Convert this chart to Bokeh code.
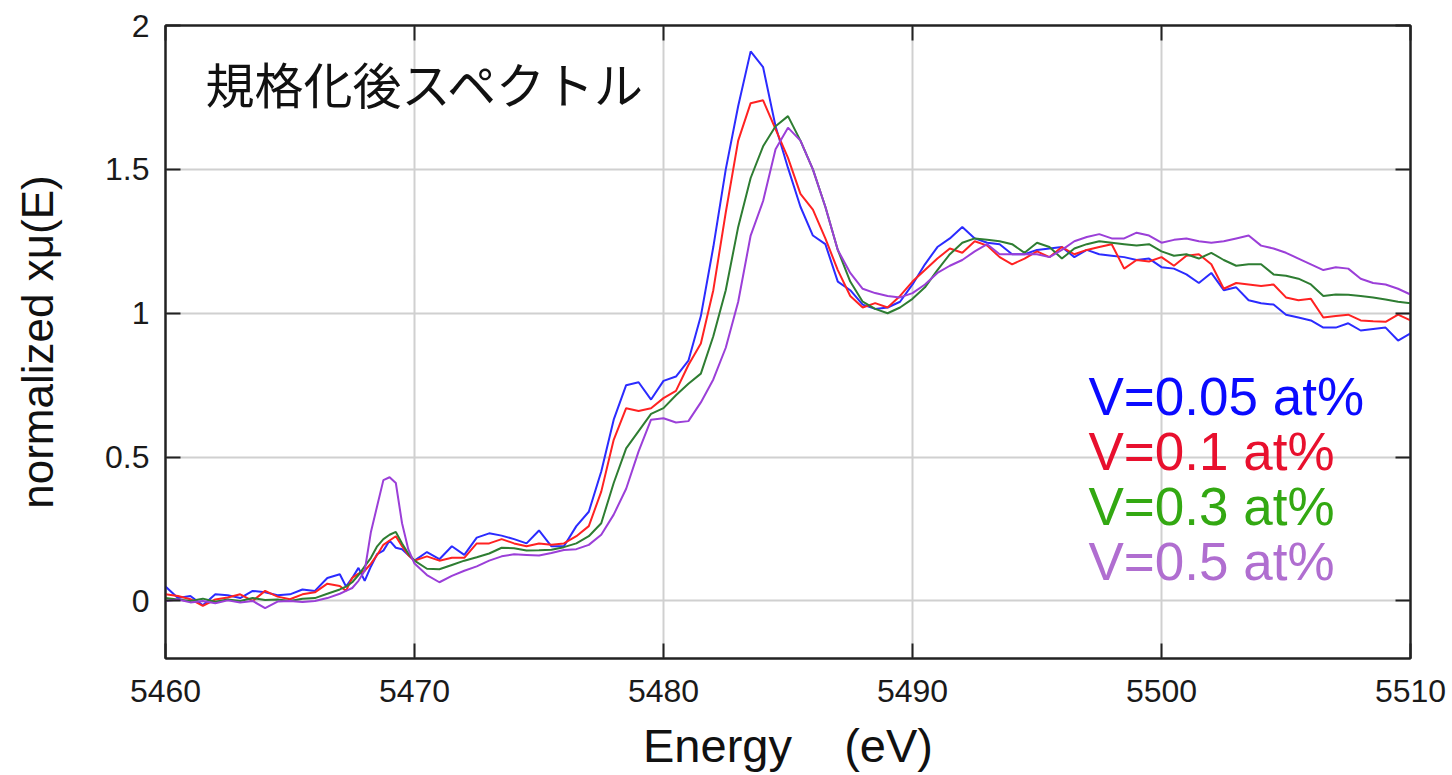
from bokeh.plotting import figure
from bokeh.models import Range1d, LinearAxis, Label, FixedTicker, NumeralTickFormatter
from bokeh.embed import file_html
from bokeh.resources import INLINE

# ---------------- data ----------------
energy = [5460.0, 5460.5, 5461.0, 5461.5, 5462.0, 5462.5, 5463.0, 5463.5, 5464.0, 5464.5,
          5465.0, 5465.5, 5466.0, 5466.5, 5467.0,
          5467.25, 5467.5, 5467.75, 5468.0, 5468.25, 5468.5, 5468.75, 5469.0, 5469.25, 5469.5,
          5469.75, 5470.0,
          5470.5, 5471.0, 5471.5, 5472.0, 5472.5, 5473.0, 5473.5, 5474.0, 5474.5, 5475.0,
          5475.5, 5476.0, 5476.5, 5477.0, 5477.5, 5478.0, 5478.5, 5479.0, 5479.5, 5480.0,
          5480.5, 5481.0, 5481.5, 5482.0, 5482.5, 5483.0, 5483.5, 5484.0, 5484.5, 5485.0,
          5485.5, 5486.0, 5486.5, 5487.0, 5487.5, 5488.0, 5488.5, 5489.0, 5489.5, 5490.0,
          5490.5, 5491.0, 5491.5, 5492.0, 5492.5, 5493.0, 5493.5, 5494.0, 5494.5, 5495.0,
          5495.5, 5496.0, 5496.5, 5497.0, 5497.5, 5498.0, 5498.5, 5499.0, 5499.5, 5500.0,
          5500.5, 5501.0, 5501.5, 5502.0, 5502.5, 5503.0, 5503.5, 5504.0, 5504.5, 5505.0,
          5505.5, 5506.0, 5506.5, 5507.0, 5507.5, 5508.0, 5508.5, 5509.0, 5509.5, 5510.0]

v005 = [0.05, 0.01, 0.017, -0.015, 0.023, 0.02, 0.01, 0.035, 0.03, 0.02,
        0.023, 0.04, 0.035, 0.08, 0.093,
        0.05, 0.08, 0.115, 0.07, 0.12, 0.163, 0.175, 0.21, 0.185, 0.18,
        0.16, 0.14,
        0.17, 0.145, 0.19, 0.16, 0.22, 0.235, 0.227, 0.215, 0.2, 0.245,
        0.19, 0.19, 0.26, 0.31, 0.45, 0.63, 0.75, 0.76, 0.70, 0.765,
        0.78, 0.835, 0.99, 1.23, 1.50, 1.72, 1.91, 1.855, 1.65, 1.505,
        1.37, 1.27, 1.24, 1.11, 1.08, 1.03, 1.015, 1.02, 1.04, 1.10,
        1.17, 1.23, 1.26, 1.30, 1.26, 1.245, 1.24, 1.205, 1.205, 1.22,
        1.225, 1.23, 1.195, 1.22, 1.205, 1.20, 1.195, 1.185, 1.19, 1.16,
        1.155, 1.135, 1.105, 1.14, 1.08, 1.09, 1.045, 1.035, 1.03, 0.995,
        0.985, 0.975, 0.95, 0.95, 0.965, 0.94, 0.945, 0.95, 0.905, 0.93]

v01 = [0.023, 0.017, 0.006, -0.017, 0.005, 0.012, 0.023, 0.0, 0.035, 0.015,
       0.006, 0.023, 0.03, 0.06, 0.052,
       0.035, 0.08, 0.095, 0.105, 0.13, 0.16, 0.195, 0.21, 0.225, 0.19,
       0.16, 0.14,
       0.155, 0.14, 0.15, 0.15, 0.2, 0.2, 0.215, 0.2, 0.19, 0.2,
       0.195, 0.2, 0.225, 0.26, 0.38, 0.56, 0.67, 0.66, 0.67, 0.705,
       0.73, 0.82, 0.895, 1.08, 1.35, 1.60, 1.73, 1.74, 1.64, 1.54,
       1.415, 1.36, 1.26, 1.15, 1.06, 1.02, 1.035, 1.02, 1.06, 1.11,
       1.15, 1.19, 1.225, 1.21, 1.25, 1.235, 1.195, 1.17, 1.19, 1.215,
       1.195, 1.23, 1.205, 1.22, 1.23, 1.24, 1.155, 1.185, 1.18, 1.195,
       1.165, 1.20, 1.205, 1.17, 1.085, 1.105, 1.10, 1.095, 1.10, 1.055,
       1.045, 1.05, 0.985, 0.99, 0.995, 0.975, 0.972, 0.97, 0.995, 0.975]

v03 = [0.01, 0.005, 0.0, 0.008, -0.003, 0.005, 0.0, 0.01, 0.003, 0.005,
       0.0, 0.008, 0.01, 0.025, 0.04,
       0.05, 0.065, 0.09, 0.12, 0.15, 0.19, 0.215, 0.23, 0.24, 0.2,
       0.165, 0.14,
       0.112, 0.11, 0.125, 0.14, 0.152, 0.165, 0.185, 0.183, 0.175, 0.176,
       0.178, 0.187, 0.20, 0.225, 0.27, 0.41, 0.53, 0.59, 0.65, 0.67,
       0.715, 0.755, 0.79, 0.92, 1.08, 1.30, 1.47, 1.58, 1.65, 1.685,
       1.60, 1.50, 1.37, 1.22, 1.11, 1.04, 1.015, 1.0, 1.02, 1.05,
       1.09, 1.15, 1.205, 1.245, 1.26, 1.255, 1.25, 1.24, 1.21, 1.245,
       1.23, 1.19, 1.225, 1.24, 1.25, 1.245, 1.24, 1.235, 1.24, 1.215,
       1.20, 1.205, 1.19, 1.21, 1.185, 1.165, 1.17, 1.17, 1.135, 1.13,
       1.12, 1.10, 1.06, 1.065, 1.064, 1.06, 1.055, 1.048, 1.04, 1.035]

v05 = [0.0, 0.005, -0.005, 0.0, -0.008, 0.002, -0.005, 0.0, -0.025, -0.002,
       0.0, -0.004, 0.0, 0.01, 0.025,
       0.035, 0.045, 0.07, 0.105, 0.24, 0.33, 0.42, 0.43, 0.41, 0.27,
       0.18, 0.13,
       0.09, 0.065, 0.087, 0.105, 0.12, 0.14, 0.155, 0.162, 0.16, 0.158,
       0.167, 0.177, 0.18, 0.195, 0.23, 0.30, 0.39, 0.52, 0.63, 0.635,
       0.62, 0.625, 0.69, 0.77, 0.88, 1.04, 1.27, 1.39, 1.57, 1.645,
       1.60, 1.50, 1.37, 1.22, 1.14, 1.085, 1.07, 1.06, 1.055, 1.07,
       1.10, 1.14, 1.165, 1.185, 1.215, 1.24, 1.205, 1.205, 1.205, 1.205,
       1.195, 1.22, 1.25, 1.265, 1.275, 1.26, 1.26, 1.28, 1.27, 1.245,
       1.255, 1.26, 1.25, 1.245, 1.25, 1.26, 1.27, 1.235, 1.225, 1.21,
       1.19, 1.17, 1.15, 1.16, 1.155, 1.12, 1.105, 1.10, 1.085, 1.065]

series_labels = ["V=0.05 at%", "V=0.1 at%", "V=0.3 at%", "V=0.5 at%"]
x_ticks = [5460, 5470, 5480, 5490, 5500, 5510]
y_ticks = [0, 0.5, 1, 1.5, 2]
title_text = "規格化後スペクトル"

# ---------------- figure ----------------
p = figure(width=1452, height=775, output_backend="svg", toolbar_location=None,
           x_range=Range1d(5460, 5510), y_range=Range1d(-0.2, 2.0),
           min_border_left=165, min_border_right=42, min_border_top=25, min_border_bottom=117)
p.background_fill_color = "white"
p.border_fill_color = "white"
p.outline_line_color = "#222222"
p.outline_line_width = 2

line_colors = ["#2b2bff", "#ff2222", "#2e7d32", "#9b3fd8"]
text_colors = ["#0a0aff", "#e8102e", "#33a812", "#b06ed0"]

for ys, c in zip([v005, v01, v03, v05], line_colors):
    p.line(energy, ys, line_color=c, line_width=2)

FONT = "Liberation Sans"

for ax in (p.xaxis[0], p.yaxis[0]):
    ax.major_tick_in = 15
    ax.major_tick_out = 0
    ax.minor_tick_in = 0
    ax.minor_tick_out = 0
    ax.axis_line_color = "#222222"
    ax.axis_line_width = 2
    ax.major_tick_line_color = "#222222"
    ax.major_tick_line_width = 2
    ax.major_label_text_font = FONT
    ax.major_label_text_font_size = "32px"
    ax.major_label_text_color = "#1a1a1a"
    ax.axis_label_text_font = FONT
    ax.axis_label_text_font_style = "normal"
    ax.axis_label_text_color = "#111111"

p.xaxis[0].ticker = FixedTicker(ticks=x_ticks)
p.yaxis[0].ticker = FixedTicker(ticks=y_ticks)
p.yaxis[0].formatter = NumeralTickFormatter(format="0.[0]")
p.xaxis[0].major_label_standoff = 21
p.yaxis[0].major_label_standoff = 16
p.xaxis[0].axis_label = "Energy\u00a0\u00a0\u00a0\u00a0(eV)"
p.xaxis[0].axis_label_text_font_size = "47px"
p.xaxis[0].axis_label_standoff = 14
p.yaxis[0].axis_label = "normalized xμ(E)"
p.yaxis[0].axis_label_text_font_size = "44px"
p.yaxis[0].axis_label_standoff = 40

for loc, tk in (("above", x_ticks), ("right", y_ticks)):
    ax = LinearAxis(ticker=FixedTicker(ticks=tk), major_tick_in=15, major_tick_out=0,
                    minor_tick_in=0, minor_tick_out=0, axis_line_color="#222222",
                    axis_line_width=2, major_tick_line_color="#222222",
                    major_tick_line_width=2, major_label_text_font_size="1px",
                    major_label_text_alpha=0, major_label_standoff=0)
    p.add_layout(ax, loc)

p.xgrid.ticker = FixedTicker(ticks=x_ticks)
p.ygrid.ticker = FixedTicker(ticks=y_ticks)
p.grid.grid_line_color = "#d0d0d0"
p.grid.grid_line_width = 2

p.add_layout(Label(x=40, y=576, x_units="screen", y_units="screen", text=title_text,
                   text_font="Noto Sans CJK JP", text_font_size="49px",
                   text_baseline="middle", text_color="#111111"))

for i, (lab, c) in enumerate(zip(series_labels, text_colors)):
    p.add_layout(Label(x=923, y=262 - 55 * i, x_units="screen", y_units="screen", text=lab,
                       text_font=FONT, text_font_size="53px",
                       text_baseline="middle", text_color=c))

open("out.html", "w").write(file_html(p, INLINE))
